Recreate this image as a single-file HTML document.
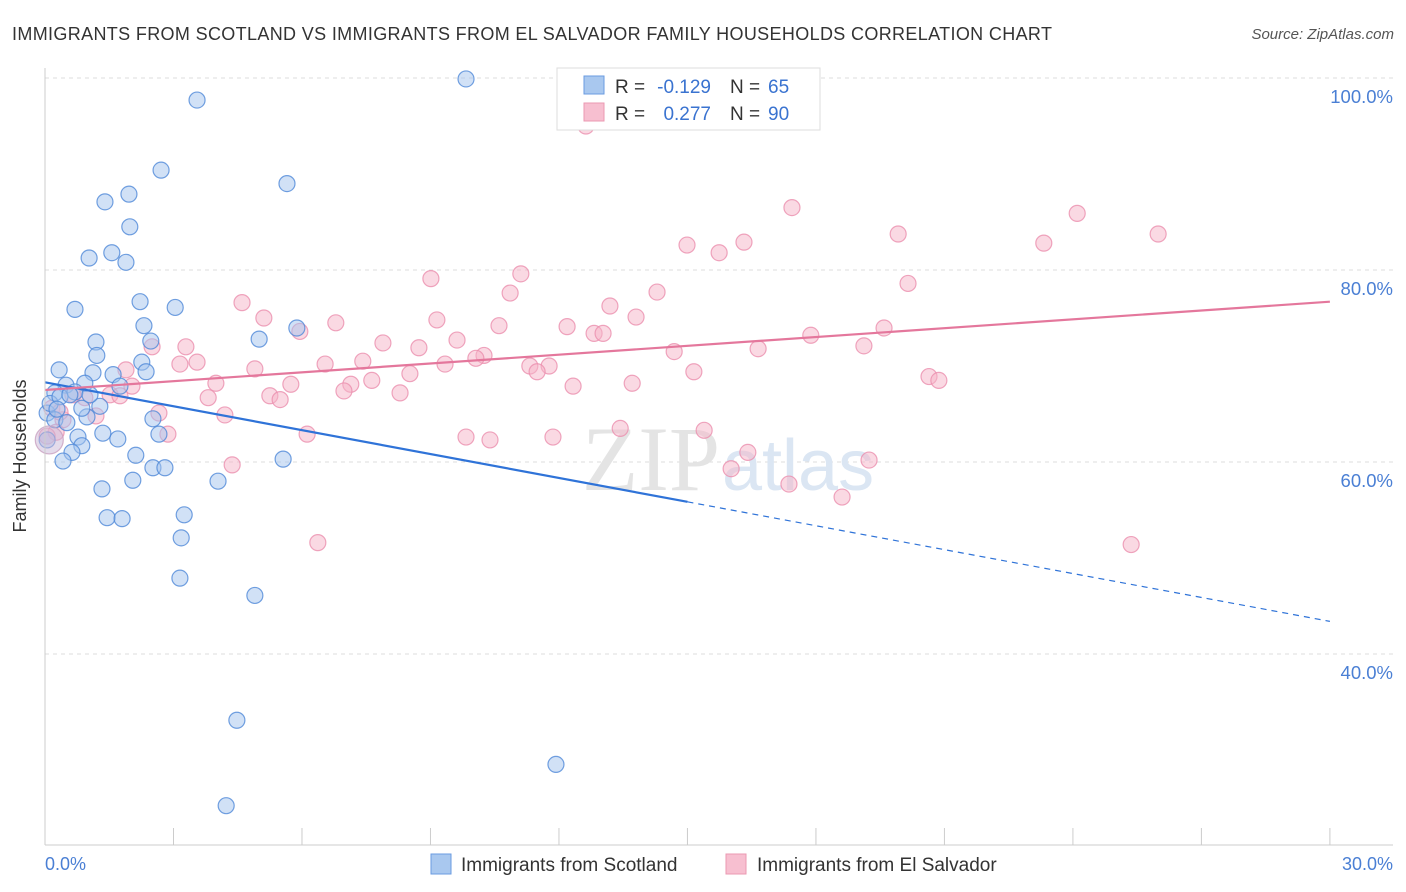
<!DOCTYPE html>
<html><head><meta charset="utf-8"><style>
body{margin:0;background:#fff;font-family:"Liberation Sans",sans-serif;}
svg{display:block}
</style></head><body>
<svg id="chart" width="1406" height="892" xmlns="http://www.w3.org/2000/svg">
<text x="12" y="40" font-size="18" letter-spacing="0.35" fill="#333">IMMIGRANTS FROM SCOTLAND VS IMMIGRANTS FROM EL SALVADOR FAMILY HOUSEHOLDS CORRELATION CHART</text>
<text x="1394" y="39" font-size="15" fill="#555" font-style="italic" text-anchor="end">Source: ZipAtlas.com</text>
<g id="grid"></g>
<text x="720" y="490" font-size="92" fill="#e4e4e4" text-anchor="end" font-family="Liberation Serif">ZIP</text>
<text x="722" y="490" font-size="72" fill="#dbe6f3">atlas</text>
<g id="pts"></g>
<g id="trends"></g>
<line x1="45" y1="68" x2="45" y2="845" stroke="#ccc"/>
<line x1="45" y1="845" x2="1393" y2="845" stroke="#ccc"/>
<text x="26" y="456" font-size="18" fill="#333" transform="rotate(-90 26 456)" text-anchor="middle">Family Households</text>
<text x="45" y="870" font-size="18" fill="#4a7fd4">0.0%</text>
<text x="1393" y="870" font-size="18" fill="#4a7fd4" text-anchor="end">30.0%</text>
<g>
<rect x="557" y="68" width="263" height="62" fill="#fff" stroke="#ddd"/>
<rect x="584" y="76" width="20" height="18" fill="#a9c8ef" stroke="#6a9be0"/>
<rect x="584" y="103" width="20" height="18" fill="#f7bfd0" stroke="#eb98b2"/>
<text x="615" y="93" font-size="19" fill="#333">R =</text>
<text x="711" y="93" font-size="19" fill="#3a73d0" text-anchor="end">-0.129</text>
<text x="730" y="93" font-size="19" fill="#333">N =</text>
<text x="768" y="93" font-size="19" fill="#3a73d0">65</text>
<text x="615" y="120" font-size="19" fill="#333">R =</text>
<text x="711" y="120" font-size="19" fill="#3a73d0" text-anchor="end">0.277</text>
<text x="730" y="120" font-size="19" fill="#333">N =</text>
<text x="768" y="120" font-size="19" fill="#3a73d0">90</text>
</g>
<g>
<rect x="431" y="854" width="20" height="20" fill="#a9c8ef" stroke="#6a9be0"/>
<text x="461" y="871" font-size="19" fill="#333">Immigrants from Scotland</text></g>
<g>
<rect x="726" y="854" width="20" height="20" fill="#f7bfd0" stroke="#eb98b2"/>
<text x="757" y="871" font-size="19" fill="#333">Immigrants from El Salvador</text></g>
</svg>
<script>
const yTicks=[40,60,80,100];
const xTickVals=[0,3,6,9,12,15,18,21,24,27,30];
const blueX=[9.83,3.55,2.71,5.65,1.40,1.96,1.98,1.03,1.56,1.89,0.70,2.22,3.04,2.31,1.19,1.21,2.47,5.00,5.88,0.33,1.12,1.59,2.26,2.36,0.49,0.93,1.75,0.23,0.70,0.05,0.23,0.51,0.98,1.28,0.86,2.52,1.70,1.35,0.77,0.86,2.66,0.63,0.42,2.12,2.52,2.80,5.56,1.33,2.05,4.04,1.45,1.80,3.25,3.18,3.15,4.90,4.48,4.23,11.93,0.05,0.12,0.35,1.05,0.28,0.58];
const blueY=[99.9,97.7,90.4,89.0,87.1,87.9,84.5,81.25,81.8,80.8,75.9,76.7,76.1,74.2,72.5,71.1,72.6,72.8,73.96,69.6,69.3,69.1,70.4,69.4,68.0,68.2,67.9,67.2,67.3,65.1,64.4,64.1,64.7,65.8,65.6,64.5,62.4,63.0,62.6,61.7,62.9,61.0,60.1,60.7,59.4,59.4,60.3,57.2,58.1,58.0,54.2,54.1,54.5,52.1,47.9,46.1,33.1,24.2,28.5,62.3,66.1,66.8,67.0,65.5,67.0];
const pinkX=[12.63,17.44,24.1,19.92,25.99,16.32,14.99,23.32,15.74,11.11,9.01,20.15,14.29,10.86,4.60,13.19,5.11,9.15,13.80,6.79,10.6,12.19,5.95,9.62,12.82,13.03,17.88,19.59,7.89,2.50,8.73,19.12,3.29,14.69,16.65,10.25,10.06,7.42,6.54,3.15,3.55,9.34,11.32,11.77,4.90,8.52,15.15,11.49,20.64,20.87,7.63,7.14,1.89,2.03,3.99,5.74,13.71,12.33,6.98,8.29,1.52,3.81,5.25,5.49,0.93,2.66,1.19,4.20,0.16,0.42,0.26,0.05,9.83,10.39,11.86,13.43,15.39,2.87,6.12,16.41,4.37,16.02,19.24,17.37,18.61,6.37,25.36,0.35,0.65,1.75];
const pinkY=[95.0,86.5,85.9,83.75,83.75,82.9,82.6,82.8,81.8,79.6,79.1,78.6,77.7,77.6,76.6,76.25,75.0,74.8,75.1,74.5,74.2,74.1,73.6,72.7,73.4,73.4,73.2,73.96,72.4,72.0,71.9,72.1,72.0,71.5,71.8,71.1,70.8,70.5,70.2,70.2,70.4,70.2,70.0,70.0,69.7,69.2,69.4,69.4,68.9,68.5,68.5,68.1,69.6,67.9,68.2,68.1,68.2,67.9,67.4,67.2,67.0,66.7,66.9,66.5,66.7,65.1,64.8,64.9,65.6,64.4,63.1,62.7,62.6,62.3,62.6,63.5,63.3,62.9,62.9,61.0,59.7,59.3,60.2,57.7,56.35,51.6,51.4,65.2,67.0,66.9];
const blueTrend=[68.3,43.4];
const pinkTrend=[67.5,76.7];
const blueSolidEnd=15;
const NS='http://www.w3.org/2000/svg';
const sx=v=>45+v*42.83;
const sy=v=>78+(100-v)*9.6;
function mk(tag,attrs,parent){const e=document.createElementNS(NS,tag);for(const k in attrs)e.setAttribute(k,attrs[k]);parent.appendChild(e);return e;}
const grid=document.getElementById('grid');
yTicks.forEach(t=>{
 const l=mk('line',{x1:45,x2:1393,y1:sy(t),y2:sy(t),stroke:'#ddd','stroke-dasharray':'4,4'},grid);
 
 
 const tx=mk('text',{x:1393,y:sy(t)+25,'font-size':18.5,fill:'#4a7fd4','text-anchor':'end'},grid);
 tx.textContent=t.toFixed(1)+'%';
 
 
});
xTickVals.forEach(t=>{
 const l=mk('line',{x1:sx(t),x2:sx(t),y1:828,y2:845,stroke:'#ccc'},grid);
 
 
});
const pts=document.getElementById('pts');
function dot(x,y,r,fill,stroke,name){
 const c=mk('circle',{cx:sx(x),cy:sy(y),r:r,fill:fill,'fill-opacity':0.5,stroke:stroke,'stroke-width':1.2,'stroke-opacity':0.8},pts);
 
 
}
pinkX.forEach((x,i)=>dot(x,pinkY[i],8,'#f5b3c8','#eb8fae','point-el-salvador'));
blueX.forEach((x,i)=>dot(x,blueY[i],8,'#a4c4ee','#4f88d8','point-scotland'));
dot(0.1,62.3,14,'#c9b7d8','#c9a0c0','point-cluster');
const tr=document.getElementById('trends');
const bAt=x=>blueTrend[0]+(blueTrend[1]-blueTrend[0])*x/30;
let l1=mk('line',{x1:sx(0),y1:sy(bAt(0)),x2:sx(blueSolidEnd),y2:sy(bAt(blueSolidEnd)),stroke:'#2f73d8','stroke-width':2.2},tr);


let l2=mk('line',{x1:sx(blueSolidEnd),y1:sy(bAt(blueSolidEnd)),x2:sx(30),y2:sy(bAt(30)),stroke:'#2f73d8','stroke-width':1.2,'stroke-dasharray':'6,5'},tr);


let l3=mk('line',{x1:sx(0),y1:sy(pinkTrend[0]),x2:sx(30),y2:sy(pinkTrend[1]),stroke:'#e4779c','stroke-width':2.2},tr);


</script>
</body></html>
